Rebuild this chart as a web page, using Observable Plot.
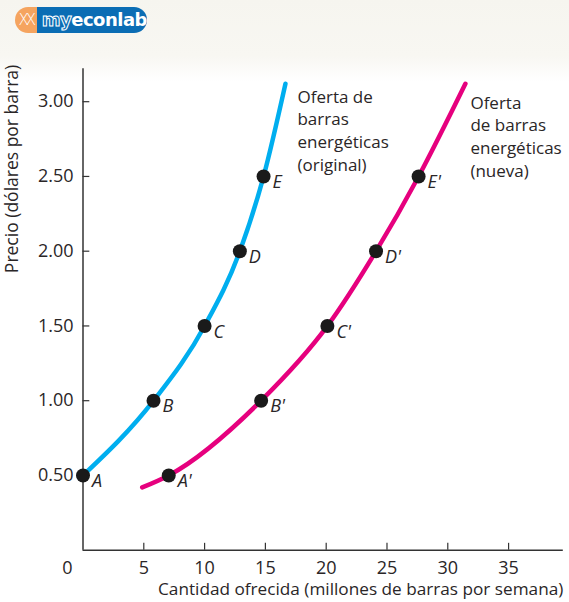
<!DOCTYPE html>
<html><head><meta charset="utf-8">
<script src="https://cdn.jsdelivr.net/npm/d3@7"></script>
<script src="https://cdn.jsdelivr.net/npm/@observablehq/plot@0.6"></script>
<style>
html,body{margin:0;padding:0;}
body{width:569px;height:602px;position:relative;overflow:hidden;background:linear-gradient(#f6f5ef 0px,#f8f7f2 56px,#ffffff 82px,#ffffff 100%);font-family:"Open Sans",sans-serif;}
#logo{position:absolute;left:15px;top:7px;height:26px;width:132px;border-radius:13px;overflow:hidden;display:flex;}
#logo .o{background:#f5a45f;width:27px;color:#fff;font-size:15px;line-height:26px;text-align:center;font-weight:300;letter-spacing:-3px;font-family:"DejaVu Sans",sans-serif;}
#logo .b{background:#0b6db4;flex:1;color:#fff;font-weight:bold;font-size:18px;line-height:25px;padding-left:5px;font-family:"DejaVu Sans",sans-serif;letter-spacing:-0.5px;}
#logo .my{color:#0b6db4;-webkit-text-stroke:1px #fff;}
#chart{position:absolute;left:0;top:0;}
</style></head><body>
<div id="logo"><div class="o">XX</div><div class="b"><span class="my">my</span>econlab</div></div>
<div id="chart"></div>
<script>
const price = [0.5, 1.0, 1.5, 2.0, 2.5];
const qtyOriginal = [0, 5.8, 10, 12.9, 14.85];
const qtyNew = [7.05, 14.65, 20.1, 24.1, 27.6];
const labelsOriginal = ["A", "B", "C", "D", "E"];
const labelsNew = ["A'", "B'", "C'", "D'", "E'"];
// where the drawn curves end beyond the lettered points
const curveOriginalTop = {qty: 16.65, price: 3.12};
const curveNewBottom = {qty: 4.87, price: 0.42};
const curveNewTop = {qty: 31.45, price: 3.12};
const yTicks = [0.5, 1.0, 1.5, 2.0, 2.5, 3.0];
const xTicks = [5, 10, 15, 20, 25, 30, 35];
const xTitle = "Cantidad ofrecida (millones de barras por semana)";
const yTitle = "Precio (dólares por barra)";
const nameOriginal = "Oferta de\nbarras\nenergéticas\n(original)";
const nameNew = "Oferta\nde barras\nenergéticas\n(nueva)";

const ptsOriginal = price.map((p, i) => ({qty: qtyOriginal[i], price: p, label: labelsOriginal[i]}));
const ptsNew = price.map((p, i) => ({qty: qtyNew[i], price: p, label: labelsNew[i]}));
const curveOriginal = [...ptsOriginal, curveOriginalTop];
const curveNew = [curveNewBottom, ...ptsNew, curveNewTop];

const ink = "#2a2627";
const blue = "#00aeef";
const magenta = "#e6007e";

const chart = Plot.plot({
  width: 569,
  height: 602,
  marginLeft: 82.5,
  marginRight: 6.2,
  marginTop: 68.3,
  marginBottom: 52.3,
  style: {background: "transparent", fontFamily: "'Open Sans', sans-serif", fontSize: "17px", color: ink},
  x: {domain: [0, 39.5]},
  y: {domain: [0, 3.22]},
  marks: [
    Plot.ruleY([0], {stroke: "#333", strokeWidth: 1.5}),
    Plot.ruleX([0], {stroke: "#333", strokeWidth: 1.5}),
    Plot.ruleY(yTicks, {y: d => d, x1: 0, x2: 0.56, stroke: "#333", strokeWidth: 1.2}),
    Plot.ruleX(xTicks, {x: d => d, y1: 0, y2: 0.046, stroke: "#333", strokeWidth: 1.2}),
    Plot.axisY({ticks: yTicks, tickSize: 0, tickPadding: 9.5, tickFormat: d => d.toFixed(2), fontSize: 18, label: null, fill: ink}),
    Plot.axisX({ticks: xTicks, tickSize: 0, tickPadding: 11.5, fontSize: 18, label: null, fill: ink}),
    Plot.text(["0"], {frameAnchor: "bottom-left", textAnchor: "middle", lineAnchor: "middle", dx: -15.5, dy: 18, fontSize: 18, fill: ink}),
    Plot.text([xTitle], {frameAnchor: "bottom-right", textAnchor: "end", lineAnchor: "middle", dy: 39.5, fontSize: 17.2, fill: ink}),
    Plot.text([yTitle], {frameAnchor: "top-left", rotate: -90, textAnchor: "end", lineAnchor: "middle", dx: -70.5, dy: -4, fontSize: 17.5, fill: ink}),
    Plot.line(curveOriginal, {x: "qty", y: "price", curve: "monotone-x", stroke: blue, strokeWidth: 4.5}),
    Plot.line(curveNew, {x: "qty", y: "price", curve: "monotone-x", stroke: magenta, strokeWidth: 4.5}),
    Plot.dot(ptsOriginal, {x: "qty", y: "price", r: 7, fill: "#1a1a1a"}),
    Plot.dot(ptsNew, {x: "qty", y: "price", r: 7, fill: "#1a1a1a"}),
    Plot.text(ptsOriginal, {x: "qty", y: "price", text: "label", textAnchor: "start", dx: 9, dy: 6, fontStyle: "italic", fontSize: 18, fill: ink}),
    Plot.text(ptsNew, {x: "qty", y: "price", text: "label", textAnchor: "start", dx: 9, dy: 6, fontStyle: "italic", fontSize: 18, fill: ink}),
    Plot.text([curveOriginalTop], {x: "qty", y: "price", text: () => nameOriginal, textAnchor: "start", lineAnchor: "top", lineHeight: 1.33, dx: 12, dy: 3, fontSize: 17, fill: ink}),
    Plot.text([curveNewTop], {x: "qty", y: "price", text: () => nameNew, textAnchor: "start", lineAnchor: "top", lineHeight: 1.33, dx: 5, dy: 9, fontSize: 17, fill: ink})
  ]
});
document.getElementById("chart").appendChild(chart);
</script>
</body></html>
